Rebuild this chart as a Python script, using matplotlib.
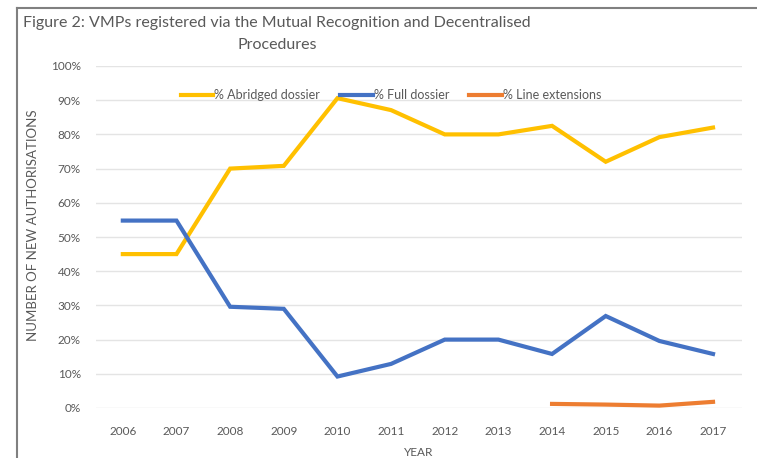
import matplotlib
matplotlib.use("Agg")
import matplotlib.pyplot as plt
import matplotlib.ticker as mtick
from matplotlib.lines import Line2D

plt.rcParams['font.family'] = ['Lato', 'DejaVu Sans']

years = [2006, 2007, 2008, 2009, 2010, 2011, 2012, 2013, 2014, 2015, 2016, 2017]
abridged = [45, 45, 70, 70.8, 90.6, 87.1, 80, 80, 82.5, 72, 79.2, 82]
full = [54.8, 54.8, 29.6, 29, 9.2, 12.9, 20, 20, 15.8, 26.9, 19.6, 15.8]
ext_years = [2014, 2015, 2016, 2017]
line_ext = [1.2, 1.0, 0.7, 1.8]

grey = "#595959"

fig = plt.figure(figsize=(7.57, 4.58), dpi=100)
ax = fig.add_axes([96 / 757, 1 - 408 / 458, 646 / 757, 342 / 458])

ax.plot(years, abridged, color="#FFC000", lw=3, label="% Abridged dossier", solid_joinstyle="miter")
ax.plot(years, full, color="#4472C4", lw=3, label="% Full dossier", solid_joinstyle="miter")
ax.plot(ext_years, line_ext, color="#ED7D31", lw=3, label="% Line extensions")

ax.set_xlim(2005.5, 2017.54)
ax.set_ylim(0, 100)
ax.set_xticks(years)
ax.set_yticks(range(0, 101, 10))
ax.yaxis.set_major_formatter(mtick.PercentFormatter(xmax=100, decimals=0))
ax.tick_params(length=0, labelsize=8.5, labelcolor=grey, pad=13)
ax.tick_params(axis="y", pad=11)
ax.grid(True, axis="y", color="#e4e4e4", lw=1)
ax.set_axisbelow(True)
for s in ax.spines.values():
    s.set_visible(False)

ax.set_xlabel("YEAR", fontsize=8.5, color=grey, labelpad=7)
ax.set_ylabel("NUMBER OF NEW AUTHORISATIONS", fontsize=9.5, color=grey)
ax.yaxis.set_label_coords((39 - 96) / 646, (408 - 225) / 342)

ax.legend(loc="center", bbox_to_anchor=((391 - 96) / 646, (408 - 95) / 342), ncol=3, frameon=False,
          fontsize=9, labelcolor=grey, handlelength=2.6, handletextpad=0.1,
          columnspacing=1.6)

fig.text(277 / 757, 1 - 34 / 458, "Figure 2: VMPs registered via the Mutual Recognition and Decentralised\nProcedures",
         ha="center", va="center", fontsize=11.5, color=grey, linespacing=1.65)

# border lines of the figure box
fig.add_artist(Line2D([17 / 757, 17 / 757], [0, 1 - 8 / 458], transform=fig.transFigure, color="#808080", lw=1.5))
fig.add_artist(Line2D([17 / 757, 1], [1 - 8 / 458, 1 - 8 / 458], transform=fig.transFigure, color="#808080", lw=1.5))

plt.savefig("out.png", dpi=100)
